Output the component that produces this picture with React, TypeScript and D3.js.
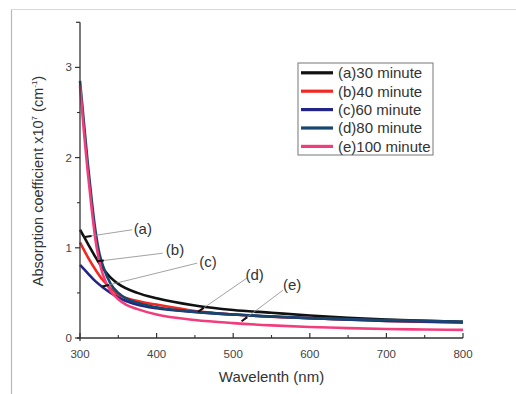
import React from 'react'
import * as d3 from 'd3'

// wavelength (nm) for every sample
const waves30 = [300, 310, 320, 330, 340, 350, 375, 400, 450, 500, 550, 600, 650, 700, 750, 800]
const abs30 = [1.2, 1.05, 0.9, 0.77, 0.67, 0.6, 0.5, 0.44, 0.36, 0.31, 0.28, 0.25, 0.225, 0.205, 0.19, 0.18]

const waves40 = [300, 310, 320, 330, 340, 350, 375, 400, 450, 500, 600, 700, 800]
const abs40 = [1.06, 0.9, 0.76, 0.64, 0.55, 0.48, 0.41, 0.37, 0.3, 0.26, 0.22, 0.19, 0.17]

const waves60 = [300, 310, 320, 330, 340, 350, 360, 375, 400, 450, 500, 600, 700, 800]
const abs60 = [0.81, 0.72, 0.63, 0.56, 0.5, 0.45, 0.41, 0.37, 0.33, 0.29, 0.26, 0.22, 0.19, 0.175]

const waves80 = [300, 305, 310, 315, 320, 325, 330, 340, 350, 360, 375, 400, 450, 500, 550, 600, 700, 800]
const abs80 = [2.85, 2.4, 1.95, 1.55, 1.2, 0.95, 0.8, 0.6, 0.5, 0.44, 0.39, 0.34, 0.29, 0.26, 0.24, 0.22, 0.2, 0.18]

const waves100 = [300, 305, 310, 315, 320, 325, 330, 340, 350, 360, 375, 400, 450, 500, 550, 600, 650, 700, 750, 800]
const abs100 = [2.8, 2.3, 1.85, 1.45, 1.1, 0.86, 0.7, 0.52, 0.43, 0.37, 0.32, 0.26, 0.2, 0.165, 0.14, 0.122, 0.11, 0.1, 0.094, 0.09]

const seriesNames = ['(a)30 minute', '(b)40 minute', '(c)60 minute', '(d)80 minute', '(e)100 minute']
const seriesColors = ['#111111', '#f02a22', '#232585', '#17466e', '#f23d7c']

const xTicks = [300, 400, 500, 600, 700, 800]
const yTicks = [0, 1, 2, 3]

// callout labels: text position and arrow end in data units
const calloutLabels = ['(a)', '(b)', '(c)', '(d)', '(e)']
const calloutText = [[382, 1.21], [424, 0.98], [467, 0.84], [528, 0.7], [577, 0.59]]
const calloutStart = [[368, 1.2], [408, 0.94], [453, 0.83], [518, 0.665], [565, 0.53]]
const calloutEnd = [[306, 1.12], [322, 0.85], [329, 0.57], [454, 0.29], [511, 0.185]]

const W = 516
const H = 394
const margin = { left: 80, right: 53, top: 22.3, bottom: 56 }

export default function App() {
  const x = d3.scaleLinear().domain([300, 800]).range([margin.left, W - margin.right])
  const y = d3.scaleLinear().domain([0, 3.5]).range([H - margin.bottom, margin.top])

  const series = [
    [waves30, abs30],
    [waves40, abs40],
    [waves60, abs60],
    [waves80, abs80],
    [waves100, abs100],
  ]

  const line = d3.line<[number, number]>()
    .x(d => x(d[0]))
    .y(d => y(d[1]))
    .curve(d3.curveMonotoneX)

  const x0 = x(300)
  const y0 = y(0)
  const font = 'Liberation Sans, Arial, sans-serif'
  const xMinor = d3.range(350, 800, 100)
  const yMinor = d3.range(0.5, 3.5, 1)

  return (
    <svg width={W} height={H} style={{ position: 'absolute', left: 0, top: 0, background: '#fff' }}>
      {/* page frame */}
      <line x1={11.5} x2={11.5} y1={9.5} y2={H} stroke="#b8b8b8" strokeWidth={1.2} />
      <line x1={11.5} x2={W} y1={9.5} y2={9.5} stroke="#d8d8d8" strokeWidth={1} />

      {/* curves */}
      {series.map((s, i) => (
        <path key={i}
          d={line(s[0].map((w, j) => [w, s[1][j]] as [number, number])) || ''}
          fill="none" stroke={seriesColors[i]} strokeWidth={2.6} strokeLinejoin="round" />
      ))}

      {/* axes */}
      <line x1={x0} x2={x0} y1={y(3.5)} y2={y0 + 3} stroke="#333" strokeWidth={1.3} />
      <line x1={x0 - 3} x2={x(800)} y1={y0} y2={y0} stroke="#333" strokeWidth={1.3} />
      <line x1={x0 - 4} x2={x0} y1={y(3.5)} y2={y(3.5)} stroke="#333" strokeWidth={1.2} />
      {yTicks.map(t => (
        <g key={t}>
          <line x1={x0 - 5} x2={x0} y1={y(t)} y2={y(t)} stroke="#333" strokeWidth={1.2} />
          <text x={x0 - 8} y={y(t)} dy="0.35em" textAnchor="end" fontSize={11.5} fontFamily={font} fill="#444">{t}</text>
        </g>
      ))}
      {yMinor.map(t => (
        <line key={t} x1={x0 - 3} x2={x0} y1={y(t)} y2={y(t)} stroke="#333" strokeWidth={1.1} />
      ))}
      {xTicks.map(t => (
        <g key={t}>
          <line x1={x(t)} x2={x(t)} y1={y0} y2={y0 - 5} stroke="#333" strokeWidth={1.2} />
          <text x={x(t)} y={y0 + 20} textAnchor="middle" fontSize={11.5} fontFamily={font} fill="#444">{t}</text>
        </g>
      ))}
      {xMinor.map(t => (
        <line key={t} x1={x(t)} x2={x(t)} y1={y0} y2={y0 - 3} stroke="#333" strokeWidth={1.1} />
      ))}

      {/* axis titles */}
      <text x={(x0 + x(800)) / 2} y={382} textAnchor="middle" fontSize={15} fontFamily={font} fill="#333">Wavelenth (nm)</text>
      <text transform={`translate(43,${181}) rotate(-90)`} textAnchor="middle" fontSize={14.5} fontFamily={font} fill="#333">
        Absorption coefficient x10<tspan dy={-6} fontSize={8}>7</tspan><tspan dy={6}> (cm</tspan><tspan dy={-6} fontSize={8}>-1</tspan><tspan dy={6}>)</tspan>
      </text>

      {/* callouts */}
      {calloutLabels.map((lab, i) => {
        const sx = x(calloutStart[i][0]), sy = y(calloutStart[i][1])
        const ex = x(calloutEnd[i][0]), ey = y(calloutEnd[i][1])
        const len = Math.hypot(sx - ex, sy - ey)
        const ux = (sx - ex) / len, uy = (sy - ey) / len
        return (
          <g key={lab}>
            <line x1={sx} y1={sy} x2={ex} y2={ey} stroke="#8a8a8a" strokeWidth={0.8} />
            <line x1={ex} y1={ey} x2={ex + ux * 7} y2={ey + uy * 7} stroke="#111" strokeWidth={2} />
            <text x={x(calloutText[i][0])} y={y(calloutText[i][1])} dy="0.35em" textAnchor="middle"
              fontSize={15} fontFamily={font} fill="#333">{lab}</text>
          </g>
        )
      })}

      {/* legend */}
      <rect x={298} y={63} width={135} height={92} fill="#fff" stroke="#777" strokeWidth={1} />
      {seriesNames.map((n, i) => (
        <g key={n} transform={`translate(301,${72.8 + i * 18.4})`}>
          <line x1={0} x2={32} y1={0} y2={0} stroke={seriesColors[i]} strokeWidth={3.2} />
          <text x={37} y={0} dy="0.36em" fontSize={15} fontFamily={font} fill="#333">{n}</text>
        </g>
      ))}
    </svg>
  )
}
